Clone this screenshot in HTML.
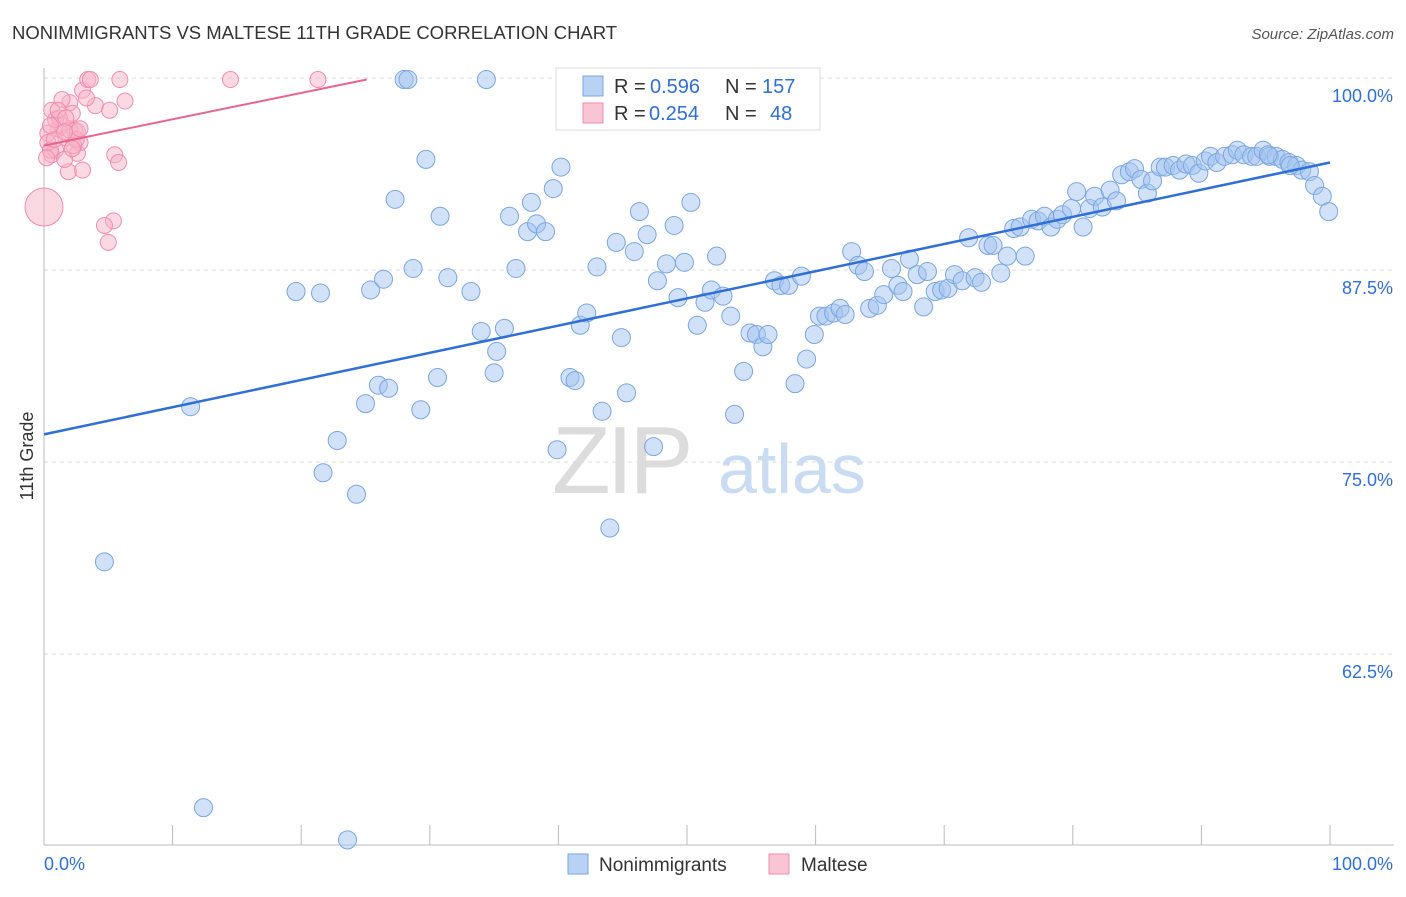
<!DOCTYPE html>
<html><head><meta charset="utf-8">
<style>
body{margin:0;background:#fff;font-family:"Liberation Sans",sans-serif;}
svg text{font-family:"Liberation Sans",sans-serif;}
</style></head>
<body>
<svg id="chart" width="1406" height="892" xmlns="http://www.w3.org/2000/svg">
<text x="12" y="39" font-size="18.5" fill="#333">NONIMMIGRANTS VS MALTESE 11TH GRADE CORRELATION CHART</text>
<text x="1394" y="39" font-size="15" fill="#555" text-anchor="end" font-style="italic">Source: ZipAtlas.com</text>
<g id="grid"></g>
<g>
<text x="552" y="493" font-size="96" fill="#dcdcdc" font-family="Liberation Serif" letter-spacing="-4">ZIP</text>
<text x="718" y="493" font-size="70" fill="#c9dcf2">atlas</text>
</g>
<g id="axes"></g>
<g id="marks"></g>
<text transform="translate(33,456) rotate(-90)" font-size="18" fill="#333" text-anchor="middle">11th Grade</text>
<g>
<rect x="556" y="68" width="264" height="62" fill="#fff" stroke="#ddd"/>
<rect x="583" y="76" width="20" height="20" fill="#b8d2f4" stroke="#7aa6e0"/>
<rect x="583" y="103" width="20" height="20" fill="#f9c4d4" stroke="#f08cb0"/>
<text x="614" y="93" font-size="20" fill="#333">R =</text>
<text x="650" y="93" font-size="20" fill="#2f6fd6">0.596</text>
<text x="725" y="93" font-size="20" fill="#333">N =</text>
<text x="762" y="93" font-size="20" fill="#2f6fd6">157</text>
<text x="614" y="120" font-size="20" fill="#333">R =</text>
<text x="649" y="120" font-size="20" fill="#2f6fd6">0.254</text>
<text x="725" y="120" font-size="20" fill="#333">N =</text>
<text x="770" y="120" font-size="20" fill="#2f6fd6">48</text>
</g>
<g>
<rect x="568" y="854" width="20" height="20" fill="#b8d2f4" stroke="#7aa6e0"/>
<text x="599" y="871" font-size="19" fill="#333">Nonimmigrants</text>
<rect x="769" y="854" width="20" height="20" fill="#f9c4d4" stroke="#f08cb0"/>
<text x="801" y="871" font-size="19" fill="#333">Maltese</text>
</g>
</svg>
<script>
const blueX=[12.4,23.6,4.7,11.4,21.7,24.3,22.8,19.6,21.5,25.0,26.0,26.8,25.4,26.4,27.3,29.3,30.6,28.7,29.7,30.8,31.4,33.2,34.0,35.0,35.2,35.8,36.2,36.7,37.6,37.9,38.3,39.0,39.6,40.2,39.9,40.9,41.3,41.7,42.2,43.0,43.4,44.0,44.5,44.9,45.3,45.9,46.3,46.9,47.4,47.7,48.4,49.0,49.3,49.8,50.3,50.8,51.4,51.9,52.3,52.8,53.4,53.7,54.4,54.9,55.4,55.9,56.3,56.8,57.3,57.9,58.4,58.9,59.3,59.9,60.3,60.8,61.4,61.9,62.3,62.8,63.3,63.8,64.2,64.8,65.3,65.9,66.4,66.8,67.3,67.9,68.4,68.7,69.3,69.8,70.3,70.8,71.4,71.9,72.4,72.9,73.4,73.8,74.4,74.9,75.4,75.9,76.3,76.8,77.3,77.8,78.3,78.8,79.2,79.9,80.3,80.8,81.3,81.7,82.3,82.9,83.4,83.8,84.4,84.8,85.3,85.8,86.2,86.8,87.2,87.8,88.3,88.8,89.3,89.8,90.3,90.7,91.2,91.8,92.4,92.8,93.3,93.9,94.3,94.8,95.3,95.8,96.3,96.8,97.4,97.8,98.4,98.8,99.4,99.9,28.0,28.3,34.4,95.2,96.9];
const blueY=[52.5,50.4,68.5,78.6,74.3,72.9,76.4,86.1,86.0,78.8,80.0,79.8,86.2,86.9,92.1,78.4,80.5,87.6,94.7,91.0,87.0,86.1,83.5,80.8,82.2,83.7,91.0,87.6,90.0,91.9,90.5,90.0,92.8,94.2,75.8,80.5,80.3,83.9,84.7,87.7,78.3,70.7,89.3,83.1,79.5,88.7,91.3,89.8,76.0,86.8,87.9,90.4,85.7,88.0,91.9,83.9,85.4,86.2,88.4,85.8,84.5,78.1,80.9,83.4,83.3,82.5,83.3,86.8,86.5,86.5,80.1,87.1,81.7,83.3,84.5,84.5,84.7,85.0,84.6,88.7,87.8,87.4,85.0,85.2,85.9,87.6,86.5,86.1,88.2,87.2,85.1,87.4,86.1,86.2,86.3,87.2,86.8,89.6,87.0,86.7,89.1,89.1,87.3,88.4,90.2,90.3,88.4,90.8,90.7,91.0,90.3,90.8,91.1,91.5,92.6,90.3,91.5,92.3,91.6,92.7,92.0,93.7,93.9,94.1,93.4,92.5,93.3,94.2,94.2,94.3,94.0,94.4,94.3,93.8,94.6,94.9,94.5,94.9,95.0,95.3,95.0,94.9,94.9,95.3,94.9,94.9,94.7,94.5,94.3,94.0,93.9,93.0,92.3,91.3,99.9,99.9,99.9,95.0,94.3];
const pinkX=[0,0.6,1.1,2.0,0.3,0.6,0.9,1.4,1.7,1.9,2.2,2.4,2.6,2.8,3.0,3.4,4.0,5.1,5.9,6.3,5.5,5.8,5.4,4.7,5.0,14.5,21.3,0.3,0.9,1.4,2.0,2.3,1.6,1.2,0.5,0.8,2.6,3.0,1.1,1.7,2.5,0.2,0.5,1.6,2.2,2.8,3.3,3.6];
const pinkY=[91.6,97.9,96.7,98.4,96.4,95.0,95.3,96.9,96.1,93.9,97.7,96.6,95.1,95.8,99.2,99.9,98.2,97.9,99.9,98.5,95.0,94.5,90.7,90.4,89.3,99.9,99.9,95.8,97.3,98.6,96.6,95.6,94.7,97.4,95.3,96.0,96.5,94.0,97.9,97.4,96.0,94.8,96.9,96.5,95.4,96.7,98.7,99.9];
const blueTrend=[76.8,94.5];
const pinkTrendX=[0,25.1];
const pinkTrendY=[95.6,99.9];
const yTicks=[100,87.5,75,62.5];
const yTickLabels=["100.0%","87.5%","75.0%","62.5%"];
const xTicks=[0,10,20,30,40,50,60,70,80,90,100];

const NS="http://www.w3.org/2000/svg";
const X=v=>44+v*12.86;
const Y=v=>78+(100-v)*15.36;
function mk(parent,tag,attrs){const e=document.createElementNS(NS,tag);for(const k in attrs)e.setAttribute(k,attrs[k]);document.getElementById(parent).appendChild(e);return e;}
yTicks.forEach((t,i)=>{
 const l=mk('grid','line',{x1:44,x2:1394,y1:Y(t),y2:Y(t),stroke:'#ddd','stroke-dasharray':'4,4'});
 
 
 const tx=mk('axes','text',{x:1393,y:Y(t)+24,'font-size':18,fill:'#2f6fd6','text-anchor':'end'});
 tx.textContent=yTickLabels[i];
 
 
});
const ax=mk('axes','line',{x1:44,x2:1394,y1:845,y2:845,stroke:'#bbb'});


const ay=mk('axes','line',{x1:44,x2:44,y1:68,y2:845,stroke:'#bbb'});


xTicks.forEach(t=>{
 const l=mk('axes','line',{x1:X(t),x2:X(t),y1:825,y2:845,stroke:'#bbb'});
 
 
});
const x0=mk('axes','text',{x:44,y:870,'font-size':18,fill:'#2f6fd6'});x0.textContent='0.0%';


const x1=mk('axes','text',{x:1393,y:870,'font-size':18,fill:'#2f6fd6','text-anchor':'end'});x1.textContent='100.0%';


blueX.forEach((v,i)=>{
 const c=mk('marks','circle',{cx:X(v),cy:Y(blueY[i]),r:9,fill:'rgba(164,196,240,0.5)',stroke:'#7aa6e0','stroke-width':1});
 
 
});
pinkX.forEach((v,i)=>{
 const c=mk('marks','circle',{cx:X(v),cy:Y(pinkY[i]),r:i===0?19:8,fill:'rgba(248,180,200,0.5)',stroke:'#f08cb0','stroke-width':1});
 
 
});
const bt=mk('marks','line',{x1:X(0),y1:Y(blueTrend[0]),x2:X(100),y2:Y(blueTrend[1]),stroke:'#2f6fd6','stroke-width':2.5});


const pt=mk('marks','line',{x1:X(pinkTrendX[0]),y1:Y(pinkTrendY[0]),x2:X(pinkTrendX[1]),y2:Y(pinkTrendY[1]),stroke:'#e8648e','stroke-width':2});


</script>
</body></html>
